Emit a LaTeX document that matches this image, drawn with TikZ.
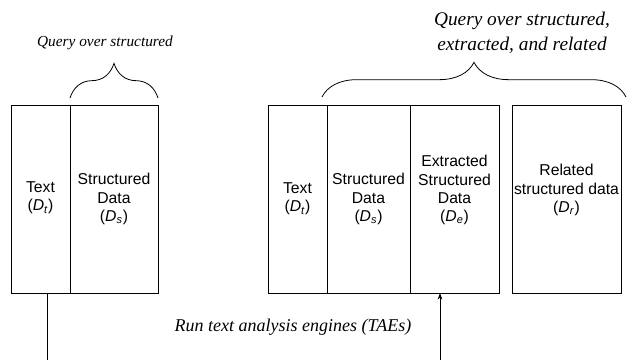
\documentclass[tikz,border=0pt]{standalone}
\usepackage{fontspec}
\setmainfont{Liberation Serif}
\setsansfont{Liberation Sans}
\usetikzlibrary{arrows.meta}
\usetikzlibrary{decorations.pathreplacing}

\newcommand{\dsym}[1]{(\textit{D}\textsubscript{\textit{#1}})}

\tikzset{
  cell/.style={draw, line width=0.75pt, rectangle, inner sep=0pt, outer sep=0pt, minimum height=141pt},
  celltext/.style={inner sep=0pt, align=center, font=\sffamily\fontsize{11.8}{13.6}\selectfont},
  caption/.style={inner sep=0pt, align=center, font=\itshape\fontsize{11.5}{18.5}\selectfont},
  bracket/.style={decorate, decoration={brace, amplitude=26pt}, line width=0.6pt}
}

\begin{document}
\begin{tikzpicture}[x=0.75pt,y=0.75pt,yscale=-1,xscale=1]
\useasboundingbox (0,0) rectangle (627,360);

%Shape: Rectangle [id:left text]
\draw (40.5,199) node [cell, minimum width=44.25pt] (lt) {};
%Shape: Rectangle [id:left structured]
\draw (114,199) node [cell, minimum width=66pt] (ls) {};
%Shape: Rectangle [id:right text]
\draw (297.5,199) node [cell, minimum width=44.25pt] (rt) {};
%Shape: Rectangle [id:right structured]
\draw (368.5,199) node [cell, minimum width=62.25pt] (rs) {};
%Shape: Rectangle [id:right extracted]
\draw (454.5,199) node [cell, minimum width=66.75pt] (re) {};
%Shape: Rectangle [id:right related]
\draw (566.5,199) node [cell, minimum width=81.75pt] (rr) {};

% Text Node
\draw (40.5,198) node [celltext] (ltx) {Text\\\dsym{t}};
% Text Node
\draw (114,199) node [celltext] (lsx) {Structured\\Data\\\dsym{s}};
% Text Node
\draw (297.5,199) node [celltext] (rtx) {Text\\\dsym{t}};
% Text Node
\draw (368.5,199) node [celltext] (rsx) {Structured\\Data\\\dsym{s}};
% Text Node
\draw (454.5,190) node [celltext] (rex) {Extracted\\Structured\\Data\\\dsym{e}};
% Text Node
\draw (566.5,190) node [celltext] (rrx) {Related\\structured data\\\dsym{r}};

%Shape: Brace
\draw [bracket] (70,98) -- (158,98);
%Shape: Brace
\draw [bracket] (322,97) -- (626,97);

% Text Node
\draw (105,43) node [caption] (qs) {Query over structured};
% Text Node
\draw (522,33) node [caption, font=\itshape\fontsize{14.5}{18.75}\selectfont] (qser) {Query over structured,\\extracted, and related};
% Text Node
\draw (293,327) node [caption, font=\itshape\fontsize{13.5}{16}\selectfont] (tae) {Run text analysis engines (TAEs)};

%Straight Lines
\coordinate (lbot) at (47,360);
\coordinate (rbot) at (440,360);
\draw [line width=0.6pt] (lt.south -| lbot) -- (lbot);
\draw [line width=0.6pt, -{Stealth[length=5pt, width=3.5pt]}] (rbot) -- (re.south -| rbot);

\end{tikzpicture}
\end{document}
